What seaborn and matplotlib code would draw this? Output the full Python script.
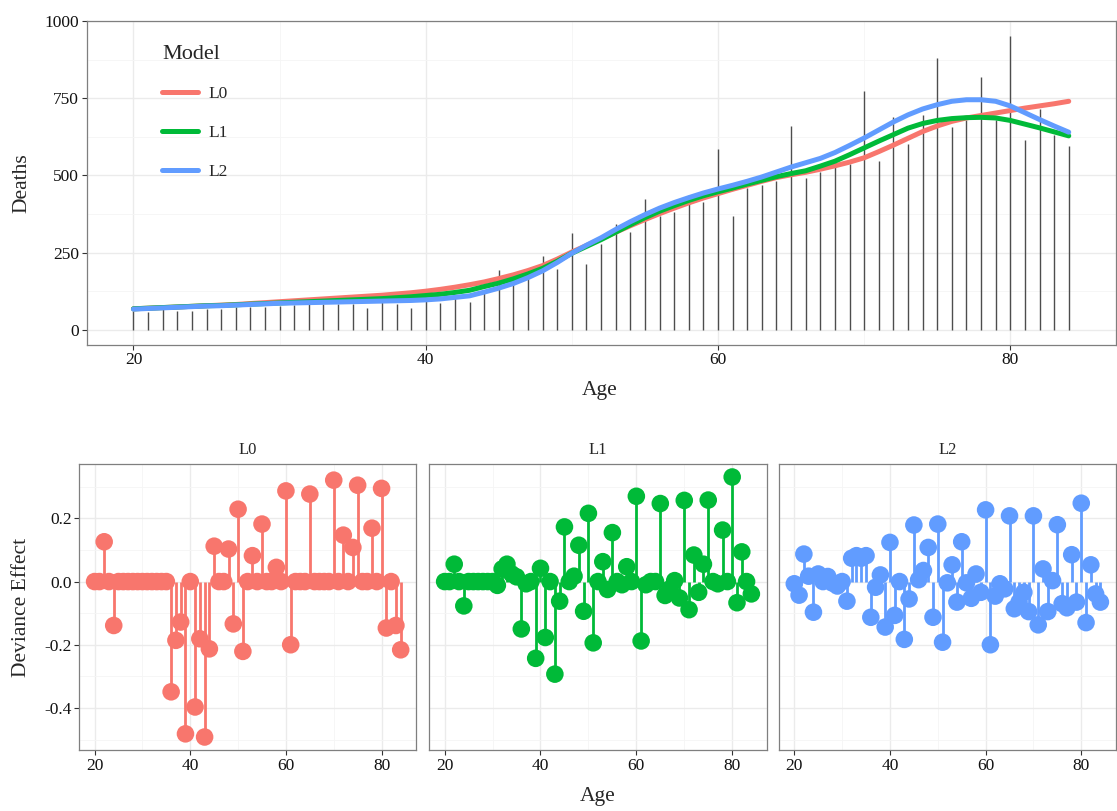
import numpy as np
import pandas as pd
import matplotlib
matplotlib.use("Agg")
import matplotlib.pyplot as plt
import seaborn as sns

# ---------------- data ----------------
ages = list(range(20, 85))

deaths = [62, 59, 80, 62, 61, 68, 68, 73, 75, 75,
          78, 80, 84, 84, 84, 84, 71, 90, 84, 71,
          92, 87, 102, 89, 127, 194, 160, 181, 240, 197,
          314, 213, 277, 342, 316, 423, 369, 383, 437, 414,
          584, 369, 458, 470, 482, 661, 492, 512, 528, 538,
          772, 548, 688, 603, 697, 880, 656, 681, 818, 681,
          952, 616, 715, 632, 595]

fit_L0 = [68, 70, 72, 74, 76, 78, 80, 82, 85, 88,
          91, 94, 97, 100, 103, 106, 109, 112, 116, 120,
          125, 131, 138, 146, 155, 166, 178, 192, 208, 229,
          252, 273, 295, 316, 337, 357, 376, 394, 411, 427,
          441, 455, 468, 481, 493, 502, 510, 520, 531, 543,
          557, 577, 598, 620, 642, 660, 675, 686, 694, 702,
          710, 718, 725, 732, 740]

fit_L1 = [68, 70, 72, 74, 76, 78, 79, 81, 83, 85,
          87, 89, 91, 93, 95, 97, 99, 101, 104, 107,
          111, 115, 121, 128, 140, 151, 165, 181, 199, 222,
          248, 270, 292, 316, 340, 363, 384, 402, 419, 434,
          447, 459, 472, 484, 496, 506, 515, 530, 546, 567,
          589, 611, 632, 653, 668, 678, 684, 687, 688, 686,
          678, 666, 654, 641, 628]

fit_L2 = [67, 69, 71, 73, 75, 77, 78, 80, 82, 84,
          86, 87, 88, 89, 90, 91, 92, 93, 94, 95,
          97, 100, 105, 110, 122, 135, 150, 169, 191, 218,
          248, 274, 298, 325, 350, 373, 394, 412, 428, 443,
          456, 468, 481, 495, 511, 527, 541, 555, 574, 597,
          621, 647, 673, 696, 715, 729, 740, 745, 745, 740,
          725, 703, 681, 660, 640]

dev_L0 = [0, 0, 0.126, 0, -0.139, 0, 0, 0, 0, 0,
          0, 0, 0, 0, 0, 0, -0.349, -0.186, -0.128, -0.482,
          0, -0.397, -0.181, -0.492, -0.213, 0.112, 0, 0, 0.103, -0.134,
          0.229, -0.221, 0, 0.082, 0, 0.182, 0, 0, 0.045, 0,
          0.287, -0.2, 0, 0, 0, 0.277, 0, 0, 0, 0,
          0.321, 0, 0.147, 0, 0.108, 0.305, 0, 0, 0.169, 0,
          0.295, -0.147, 0, -0.139, -0.216]

dev_L1 = [0, 0, 0.055, 0, -0.077, 0, 0, 0, 0, 0,
          0, -0.012, 0.04, 0.055, 0.024, 0.015, -0.15, -0.007, 0, -0.243,
          0.042, -0.177, 0, -0.293, -0.062, 0.173, 0, 0.017, 0.115, -0.094,
          0.216, -0.194, 0, 0.063, -0.025, 0.155, 0, -0.01, 0.047, 0,
          0.27, -0.188, -0.01, 0, 0, 0.247, -0.044, -0.023, 0.003, -0.052,
          0.257, -0.089, 0.084, -0.034, 0.055, 0.258, 0, -0.007, 0.163, 0,
          0.331, -0.067, 0.094, 0, -0.039]

dev_L2 = [-0.007, -0.043, 0.087, 0.017, -0.097, 0.024, 0, 0.016, -0.005, -0.014,
          0, -0.062, 0.074, 0.082, 0.074, 0.082, -0.113, -0.018, 0.021, -0.144,
          0.124, -0.107, 0, -0.183, -0.055, 0.179, 0.006, 0.035, 0.108, -0.113,
          0.182, -0.192, -0.004, 0.053, -0.065, 0.126, -0.004, -0.053, 0.024, -0.034,
          0.227, -0.2, -0.046, -0.007, -0.023, 0.208, -0.086, -0.065, -0.034, -0.095,
          0.208, -0.137, 0.04, -0.095, 0.003, 0.18, -0.07, -0.083, 0.085, -0.065,
          0.248, -0.13, 0.053, -0.039, -0.065]

models = ["L0", "L1", "L2"]
colors = {"L0": "#F8766D", "L1": "#00BA38", "L2": "#619CFF"}

fits = pd.concat([
    pd.DataFrame({"Age": ages, "Deaths": f, "Model": m})
    for m, f in zip(models, [fit_L0, fit_L1, fit_L2])
])
devs = {m: pd.DataFrame({"Age": ages, "Dev": d})
        for m, d in zip(models, [dev_L0, dev_L1, dev_L2])}

# ---------------- style ----------------
sns.set_theme(style="white")
plt.rcParams["font.family"] = ["Liberation Serif", "DejaVu Serif"]
plt.rcParams["axes.edgecolor"] = "#7F7F7F"
plt.rcParams["axes.linewidth"] = 0.9

fig = plt.figure(figsize=(11.17, 8.11), dpi=100)

W, H = 1117.0, 811.0
def place(l, r, t, b):
    return [l / W, 1 - b / H, (r - l) / W, (b - t) / H]

def style_axes(ax):
    ax.set_axisbelow(True)
    ax.grid(True, which="major", color="#EBEBEB", lw=1.0)
    ax.grid(True, which="minor", color="#F5F5F5", lw=0.6)
    ax.tick_params(which="major", direction="out", length=3.5, width=0.8,
                   color="#333333", labelsize=12.5, labelcolor="#111111", pad=2,
                   bottom=True, left=True)
    ax.tick_params(which="minor", length=0)
    for s in ax.spines.values():
        s.set_color("#7F7F7F")
        s.set_linewidth(0.9)
    ax.set_xlabel("")
    ax.set_ylabel("")

xr = max(ages) - min(ages)
xlim = (min(ages) - 0.05 * xr, max(ages) + 0.05 * xr)

# ---------------- top panel ----------------
ax = fig.add_axes(place(86.7, 1115.5, 21, 344.5))
ax.vlines(ages, 0, deaths, color="#4D4D4D", lw=1.0, zorder=2)
sns.lineplot(data=fits, x="Age", y="Deaths", hue="Model", palette=colors,
             lw=3.6, ax=ax, zorder=3, legend=True)
ax.set_xlim(*xlim)
dmax = max(deaths)
ax.set_ylim(-0.05 * dmax, 1.05 * dmax)
ax.set_xticks([20, 40, 60, 80])
ax.set_xticks([30, 50, 70], minor=True)
ax.set_yticks([0, 250, 500, 750, 1000])
ax.set_yticks([125, 375, 625, 875], minor=True)
style_axes(ax)
leg = ax.legend(title="Model", loc="upper left", bbox_to_anchor=(0.058, 0.975),
                frameon=False, fontsize=12.5, title_fontsize=16,
                handlelength=2.1, labelspacing=1.3, handletextpad=0.6)
leg._legend_box.align = "left"
for h in leg.get_lines():
    h.set_linewidth(3.6)

fig.text(600 / W, 1 - 390 / H, "Age", ha="center", va="center", fontsize=15.5)
fig.text(22 / W, 1 - 183 / H, "Deaths", ha="center", va="center",
         rotation=90, fontsize=15.5)

# ---------------- bottom facets ----------------
panels = [(79.3, 416.0), (429.3, 766.7), (779.0, 1115.7)]
allv = dev_L0 + dev_L1 + dev_L2
vr = max(allv) - min(allv)
ylim_b = (min(allv) - 0.05 * vr, max(allv) + 0.05 * vr)

for i, (m, (l, r)) in enumerate(zip(models, panels)):
    axb = fig.add_axes(place(l, r, 464, 750))
    d = devs[m]
    axb.vlines(d["Age"], 0, d["Dev"], color=colors[m], lw=2.0, zorder=2)
    sns.scatterplot(data=d, x="Age", y="Dev", color=colors[m], s=160,
                    edgecolor="none", linewidth=0, ax=axb, zorder=3)
    axb.set_xlim(*xlim)
    axb.set_ylim(*ylim_b)
    axb.set_xticks([20, 40, 60, 80])
    axb.set_xticks([30, 50, 70], minor=True)
    axb.set_yticks([-0.4, -0.2, 0.0, 0.2])
    axb.set_yticks([-0.5, -0.3, -0.1, 0.1, 0.3], minor=True)
    style_axes(axb)
    if i == 0:
        axb.set_yticklabels(["-0.4", "-0.2", "0.0", "0.2"])
    else:
        axb.set_yticklabels([])
        axb.tick_params(axis="y", which="major", length=0)
    axb.set_title(m, fontsize=12, pad=7)

fig.text(598 / W, 1 - 797 / H, "Age", ha="center", va="center", fontsize=15.5)
fig.text(22 / W, 1 - 607 / H, "Deviance Effect", ha="center", va="center",
         rotation=90, fontsize=15.5)

fig.savefig("out.png", dpi=100)
